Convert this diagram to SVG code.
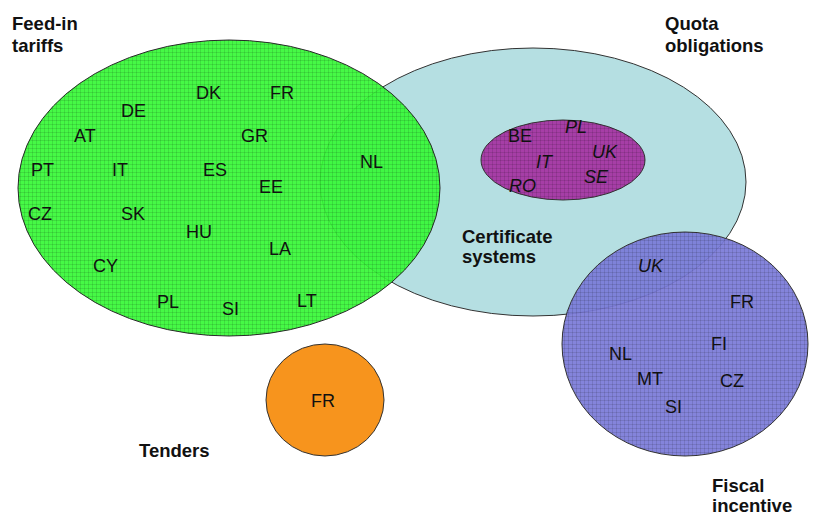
<svg xmlns="http://www.w3.org/2000/svg" width="818" height="515" viewBox="0 0 818 515">
<defs>
<pattern id="grid" width="4" height="4" patternUnits="userSpaceOnUse">
<path d="M0 0.5H4M0.5 0V4" stroke="#000" stroke-opacity="0.11" stroke-width="1" fill="none"/>
</pattern>
<style>
.shape{stroke:#333;stroke-width:1}
.grid{fill:url(#grid);stroke:none}
.lbl{font-family:"Liberation Sans",Arial,sans-serif;font-size:18px;fill:#111}
.it{font-style:italic}
.title{font-family:"Liberation Sans",Arial,sans-serif;font-size:18.5px;font-weight:bold;fill:#111}
</style>
</defs>
<rect width="818" height="515" fill="#fff"/>
<g id="quota">
<ellipse class="shape" cx="533" cy="182" rx="213" ry="134" fill="#b5dfe2"/>
<text class="title" x="665" y="30">Quota</text>
<text class="title" x="665" y="52">obligations</text>
</g>
<g id="feed-in">
<ellipse cx="229" cy="188" rx="211" ry="148" fill="#36f836" fill-opacity="0.92" stroke="#2a2a2a" stroke-width="1"/>
<ellipse class="grid" cx="229" cy="188" rx="211" ry="148"/>
<text class="title" x="12" y="30">Feed-in</text>
<text class="title" x="12" y="52">tariffs</text>
<text class="lbl" x="196" y="99">DK</text>
<text class="lbl" x="270" y="99">FR</text>
<text class="lbl" x="121" y="117">DE</text>
<text class="lbl" x="74" y="142">AT</text>
<text class="lbl" x="241" y="142">GR</text>
<text class="lbl" x="31" y="176">PT</text>
<text class="lbl" x="112" y="176">IT</text>
<text class="lbl" x="203" y="176">ES</text>
<text class="lbl" x="360" y="168">NL</text>
<text class="lbl" x="259" y="193">EE</text>
<text class="lbl" x="28" y="220">CZ</text>
<text class="lbl" x="121" y="220">SK</text>
<text class="lbl" x="186" y="238">HU</text>
<text class="lbl" x="269" y="255">LA</text>
<text class="lbl" x="93" y="272">CY</text>
<text class="lbl" x="157" y="308">PL</text>
<text class="lbl" x="222" y="315">SI</text>
<text class="lbl" x="297" y="307">LT</text>
</g>
<g id="certificate">
<ellipse class="shape" cx="563" cy="160" rx="82" ry="40" fill="#a63ea6"/>
<ellipse class="grid" cx="563" cy="160" rx="82" ry="40"/>
<text class="lbl" x="508" y="142">BE</text>
<text class="lbl it" x="565" y="133">PL</text>
<text class="lbl it" x="536" y="168">IT</text>
<text class="lbl it" x="592" y="158">UK</text>
<text class="lbl it" x="584" y="183">SE</text>
<text class="lbl it" x="509" y="192">RO</text>
<text class="title" x="462" y="243">Certificate</text>
<text class="title" x="462" y="263">systems</text>
</g>
<g id="fiscal">
<ellipse cx="685" cy="344" rx="123" ry="112" fill="#7a7ad8" fill-opacity="0.92" stroke="#333" stroke-width="1"/>
<ellipse class="grid" cx="685" cy="344" rx="123" ry="112"/>
<text class="lbl it" x="638" y="272">UK</text>
<text class="lbl" x="730" y="308">FR</text>
<text class="lbl" x="711" y="350">FI</text>
<text class="lbl" x="609" y="360">NL</text>
<text class="lbl" x="637" y="385">MT</text>
<text class="lbl" x="720" y="387">CZ</text>
<text class="lbl" x="665" y="413">SI</text>
<text class="title" x="712" y="492">Fiscal</text>
<text class="title" x="712" y="512">incentive</text>
</g>
<g id="tenders">
<ellipse class="shape" cx="325" cy="400" rx="59" ry="56" fill="#f7941d"/>
<text class="lbl" x="311" y="407">FR</text>
<text class="title" x="139" y="457">Tenders</text>
</g>
<g id="connectors"/>
</svg>
